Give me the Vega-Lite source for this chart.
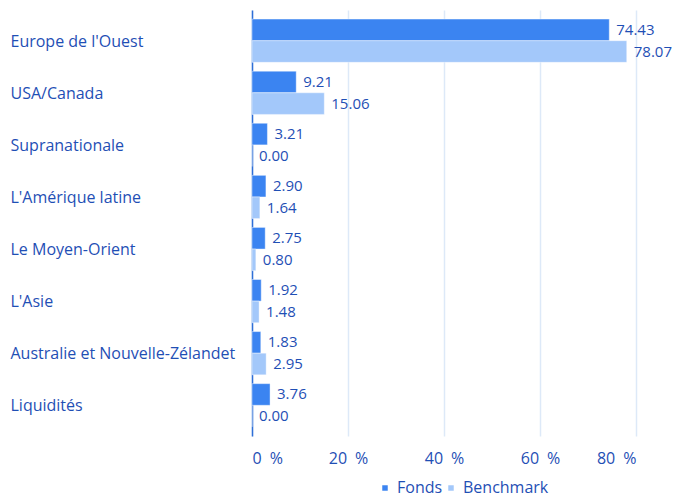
{
  "$schema": "https://vega.github.io/schema/vega-lite/v6.json",
  "autosize": {"type": "none"},
  "padding": {"left": 252, "top": 10, "right": 37, "bottom": 62},
  "width": 384,
  "height": 426,
  "config": {
    "font": "Open Sans",
    "view": {"stroke": null}
  },
  "data": {
    "values": [
      {"region": "Europe de l'Ouest", "series": "Fonds", "value": 74.43},
      {"region": "Europe de l'Ouest", "series": "Benchmark", "value": 78.07},
      {"region": "USA/Canada", "series": "Fonds", "value": 9.21},
      {"region": "USA/Canada", "series": "Benchmark", "value": 15.06},
      {"region": "Supranationale", "series": "Fonds", "value": 3.21},
      {"region": "Supranationale", "series": "Benchmark", "value": 0.0},
      {"region": "L'Amérique latine", "series": "Fonds", "value": 2.90},
      {"region": "L'Amérique latine", "series": "Benchmark", "value": 1.64},
      {"region": "Le Moyen-Orient", "series": "Fonds", "value": 2.75},
      {"region": "Le Moyen-Orient", "series": "Benchmark", "value": 0.80},
      {"region": "L'Asie", "series": "Fonds", "value": 1.92},
      {"region": "L'Asie", "series": "Benchmark", "value": 1.48},
      {"region": "Australie et Nouvelle-Zélandet", "series": "Fonds", "value": 1.83},
      {"region": "Australie et Nouvelle-Zélandet", "series": "Benchmark", "value": 2.95},
      {"region": "Liquidités", "series": "Fonds", "value": 3.76},
      {"region": "Liquidités", "series": "Benchmark", "value": 0.0}
    ]
  },
  "encoding": {
    "y": {
      "field": "region",
      "type": "nominal",
      "sort": ["Europe de l'Ouest", "USA/Canada", "Supranationale", "L'Amérique latine", "Le Moyen-Orient", "L'Asie", "Australie et Nouvelle-Zélandet", "Liquidités"],
      "scale": {"paddingInner": 0.17, "paddingOuter": 0.175},
      "axis": {
        "title": null,
        "ticks": false,
        "labelAlign": "left",
        "labelPadding": 242,
        "labelLimit": 260,
        "labelFontSize": 16,
        "labelColor": "#1f4fb5",
        "labelOffset": 1,
        "domainColor": "#2f6fd8",
        "domainWidth": 1.5,
        "grid": false
      }
    },
    "yOffset": {"field": "series", "type": "nominal", "sort": ["Fonds", "Benchmark"]},
    "x": {
      "field": "value",
      "type": "quantitative",
      "scale": {"domain": [0, 80], "nice": false},
      "axis": {
        "title": null,
        "values": [0, 20, 40, 60, 80],
        "labelExpr": "datum.value + '\u2002%'",
        "ticks": false,
        "domain": false,
        "grid": true,
        "gridColor": "#dde9f8",
        "gridWidth": 1.5,
        "labelFontSize": 16,
        "labelColor": "#1f4fb5",
        "labelPadding": 14
      }
    }
  },
  "layer": [
    {
      "mark": {"type": "bar", "stroke": "#ffffff", "strokeOpacity": 0.4, "strokeWidth": 1},
      "encoding": {
        "color": {
          "field": "series",
          "type": "nominal",
          "sort": ["Fonds", "Benchmark"],
          "scale": {"domain": ["Fonds", "Benchmark"], "range": ["#3b84f1", "#a3c8fa"]},
          "legend": {
            "title": null,
            "orient": "none",
            "direction": "horizontal",
            "legendX": 125,
            "legendY": 470,
            "symbolType": "square",
            "symbolSize": 30,
            "symbolStrokeWidth": 0,
            "labelFontSize": 16,
            "labelColor": "#1f4fb5",
            "labelOffset": 4,
            "columnPadding": 0
          }
        }
      }
    },
    {
      "mark": {"type": "text", "align": "left", "dx": 7, "fontSize": 15, "color": "#1f4fb5"},
      "encoding": {
        "text": {"field": "value", "type": "quantitative", "format": ".2f"}
      }
    }
  ]
}
